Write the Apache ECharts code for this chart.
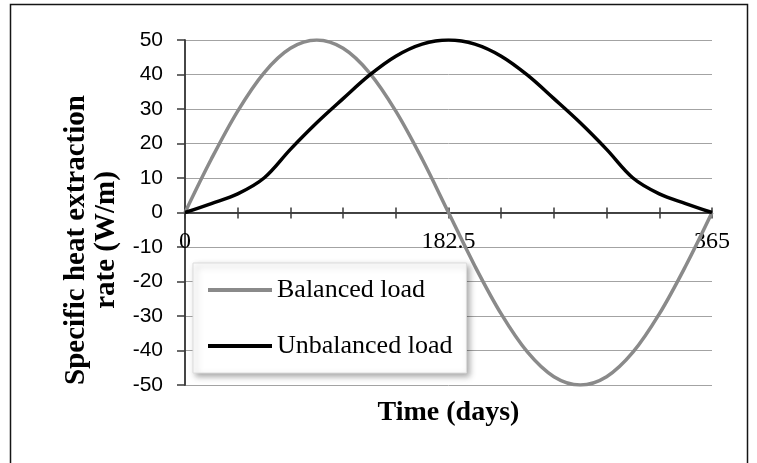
<!DOCTYPE html>
<html>
<head>
<meta charset="utf-8">
<script src="https://cdn.jsdelivr.net/npm/echarts@6/dist/echarts.min.js"></script>
<style>
  html, body { margin: 0; padding: 0; background: #fff; }
  #chart { width: 757px; height: 463px; }
</style>
</head>
<body>
<div id="chart"></div>
<script>
// Time of year (days) at which each load value is given
const days = [0, 18.25, 36.5, 54.75, 73, 91.25, 109.5, 127.75, 146, 164.25, 182.5,
              200.75, 219, 237.25, 255.5, 273.75, 292, 310.25, 328.5, 346.75, 365];
// Specific heat extraction rate (W/m)
const balancedLoad = [0, 15.5, 29.4, 40.5, 47.6, 50, 47.6, 40.5, 29.4, 15.5, 0,
                      -15.5, -29.4, -40.5, -47.6, -50, -47.6, -40.5, -29.4, -15.5, 0];
const unbalancedLoad = [0, 2.6, 5.4, 10, 18.3, 26, 33, 39.8, 45.3, 48.8, 50,
                        48.8, 45.3, 39.8, 33, 26, 18.3, 10, 5.4, 2.6, 0];
// Labelled x ticks
const xTickLabels = ['0', '182.5', '365'];
const seriesNames = ['Balanced load', 'Unbalanced load'];

const pairs = (xs, ys) => xs.map((x, i) => [x, ys[i]]);

const serif = '"Liberation Serif", "Times New Roman", serif';
const sans = '"Liberation Sans", Arial, sans-serif';
const axisColor = '#3a3a3a';

const W = 757, H = 463;
const grid = { left: 185, right: 45, top: 40, bottom: 78 };
const yMin = -50, yMax = 50;
// The time axis runs along the zero line: lift it from the bottom edge of the grid
const gridHeight = H - grid.top - grid.bottom;
const zeroLift = -gridHeight * (0 - yMin) / (yMax - yMin);

const chart = echarts.init(document.getElementById('chart'));

const xBase = {
  type: 'value', min: 0, max: 365, interval: 36.5,
  position: 'bottom',
  offset: zeroLift,
  axisLine: { show: true, onZero: false, lineStyle: { color: axisColor, width: 1.5 } },
  splitLine: { show: false }
};
const yBase = {
  type: 'value', min: yMin, max: yMax, interval: 10,
  axisLine: { show: true, lineStyle: { color: axisColor, width: 1.5 } }
};

chart.setOption({
  animation: false,
  backgroundColor: '#fff',
  grid: Object.assign({ containLabel: false, outerBoundsMode: 'none' }, grid),
  xAxis: [
    Object.assign({}, xBase, {
      axisTick: { show: true, inside: false, length: 6, lineStyle: { color: axisColor, width: 1.5 } },
      axisLabel: {
        margin: 17,
        color: '#000',
        fontFamily: serif,
        fontSize: 24,
        showMinLabel: true,
        showMaxLabel: true,
        hideOverlap: false,
        formatter: v => (xTickLabels.includes(String(v)) ? String(v) : '')
      },
      name: 'Time (days)',
      nameLocation: 'middle',
      nameGap: 186,
      nameTextStyle: { color: '#000', fontFamily: serif, fontSize: 28, fontWeight: 'bold' }
    }),
    Object.assign({}, xBase, {
      axisTick: { show: true, inside: true, length: 5, lineStyle: { color: axisColor, width: 1.5 } },
      axisLabel: { show: false }
    })
  ],
  yAxis: [
    Object.assign({}, yBase, {
      axisTick: { show: true, inside: false, length: 8, lineStyle: { color: axisColor, width: 1.5 } },
      axisLabel: {
        margin: 22, color: '#000', fontFamily: sans, fontSize: 21,
        showMinLabel: true, showMaxLabel: true, hideOverlap: false
      },
      splitLine: { show: true, lineStyle: { color: '#a3a3a3', width: 1 } }
    }),
    Object.assign({}, yBase, {
      axisTick: { show: true, inside: true, length: 4, lineStyle: { color: axisColor, width: 1.5 } },
      axisLabel: { show: false },
      splitLine: { show: false }
    })
  ],
  legend: {
    orient: 'vertical',
    left: 193,
    top: 263,
    padding: [14, 14, 14, 15],
    icon: 'rect',
    itemWidth: 64,
    itemHeight: 4,
    itemGap: 30,
    backgroundColor: '#fff',
    borderColor: '#dcdcdc',
    borderWidth: 1,
    shadowColor: 'rgba(0,0,0,0.35)',
    shadowBlur: 6,
    shadowOffsetX: 3,
    shadowOffsetY: 3,
    textStyle: { color: '#000', fontFamily: serif, fontSize: 26, lineHeight: 26 },
    data: seriesNames
  },
  graphic: [
    {
      type: 'rect',
      silent: true,
      z: -10,
      shape: { x: 10.5, y: 4.5, width: 737, height: 520 },
      style: { fill: 'none', stroke: '#151515', lineWidth: 1.5 }
    },
    {
      type: 'text',
      x: 92,
      y: 240,
      rotation: Math.PI / 2,
      style: {
        text: 'Specific heat extraction\nrate (W/m)',
        font: 'bold 29px ' + serif,
        fill: '#000',
        align: 'center',
        verticalAlign: 'middle',
        textAlign: 'center',
        textVerticalAlign: 'middle',
        lineHeight: 30
      }
    }
  ],
  series: [
    {
      name: seriesNames[0],
      type: 'line',
      data: pairs(days, balancedLoad),
      smooth: 0.35,
      symbol: 'none',
      lineStyle: { color: '#8a8a8a', width: 3.5 },
      itemStyle: { color: '#8a8a8a' },
      z: 3
    },
    {
      name: seriesNames[1],
      type: 'line',
      data: pairs(days, unbalancedLoad),
      smooth: 0.35,
      symbol: 'none',
      lineStyle: { color: '#000', width: 3.5 },
      itemStyle: { color: '#000' },
      z: 4
    }
  ]
});
</script>
</body>
</html>
